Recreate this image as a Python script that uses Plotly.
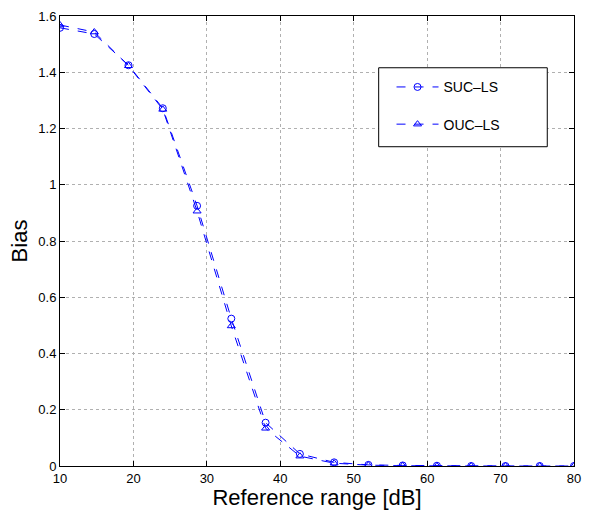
import numpy as np
import plotly.graph_objects as go

ref_range = [10, 14.67, 19.33, 24, 28.67, 33.33, 38, 42.67, 47.33, 52, 56.67, 61.33, 66, 70.67, 75.33, 80]
suc_ls = [1.558, 1.536, 1.425, 1.272, 0.925, 0.524, 0.154, 0.043, 0.013, 0.004, 0.002, 0.001, 0.0, 0.0, 0.0, 0.0]
ouc_ls = [1.568, 1.543, 1.423, 1.268, 0.906, 0.498, 0.134, 0.035, 0.010, 0.003, 0.001, 0.0, 0.0, 0.0, 0.0, 0.0]

blue = "#0000ff"
fig = go.Figure()
fig.add_trace(go.Scatter(
    x=ref_range, y=suc_ls, name="SUC\u2013LS", mode="lines+markers",
    line=dict(color=blue, width=1, dash="dash"),
    marker=dict(symbol="circle-open", size=7, color=blue, line=dict(width=1)),
    legendgroup="a",
))
fig.add_trace(go.Scatter(
    x=ref_range, y=ouc_ls, name="OUC\u2013LS", mode="lines+markers",
    line=dict(color=blue, width=1, dash="dash"),
    marker=dict(symbol="triangle-up-open", size=7, color=blue, line=dict(width=1)),
    legendgroup="b",
))

axis_common = dict(
    showline=True, linecolor="black", linewidth=1, mirror="ticks",
    ticks="inside", ticklen=5, tickcolor="black",
    showgrid=True, gridcolor="#b0b0b0", griddash="dot", gridwidth=1,
    zeroline=False, tickfont=dict(size=13, color="black"),
)
fig.update_xaxes(range=[10, 80], tickvals=list(range(10, 81, 10)),
                 title=dict(text="Reference range [dB]", font=dict(size=22, color="black"), standoff=0),
                 **axis_common)
fig.update_yaxes(range=[0, 1.6], tickvals=[0, 0.2, 0.4, 0.6, 0.8, 1, 1.2, 1.4, 1.6],
                 title=dict(text="Bias", font=dict(size=22, color="black"), standoff=4),
                 **axis_common)

# legend frame (MATLAB style box)
fig.add_shape(type="rect", xref="paper", yref="paper",
              x0=0.620, x1=0.948, y0=0.7095, y1=0.885,
              line=dict(color="black", width=1), fillcolor="white", layer="above")

fig.update_layout(
    width=590, height=510,
    margin=dict(l=60, r=9, t=15, b=44),
    paper_bgcolor="white", plot_bgcolor="white",
    font=dict(family="Liberation Sans, Arial, sans-serif", color="black"),
    legend=dict(
        x=0.645, y=0.877, xanchor="left", yanchor="top",
        borderwidth=0, bgcolor="rgba(0,0,0,0)",
        font=dict(size=14, color="black"),
        traceorder="grouped", tracegroupgap=16,
        itemwidth=42,
    ),
)

fig.write_html("out.html")
